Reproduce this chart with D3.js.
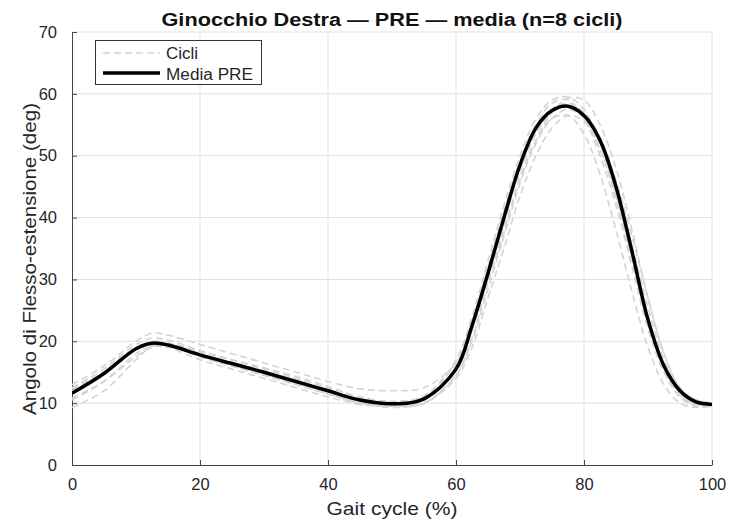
<!DOCTYPE html>
<html>
<head>
<meta charset="utf-8">
<script src="https://cdn.jsdelivr.net/npm/d3@7"></script>
<style>
body{margin:0;background:#fff;}
text{font-family:"Liberation Sans",Arial,sans-serif;}
</style>
</head>
<body>
<svg id="chart" width="731" height="524"></svg>
<script>
const gaitPct = [0,5,10,12.5,15,20,25,30,35,40,45,50,55,60,62.5,65,67.5,70,72.5,75,77.5,80,82.5,85,87.5,90,92.5,95,97.5,100];
const mediaPRE = [11.6,14.8,18.8,19.7,19.4,17.8,16.4,15.0,13.5,12.0,10.5,9.9,10.7,15.5,22.5,31.0,40.0,48.5,54.5,57.3,58.0,56.5,52.5,45.0,34.5,23.5,16.0,12.0,10.2,9.8];
const ciclo1 = [13.0,16,20,21.3,21,19.5,18,16.5,15,13.5,12.3,12,12.5,16.5,22,30,38,46,52.5,57,59.3,59,55,48,38,27,18,12.5,10.5,10.2];
const ciclo2 = [9.3,12,17,19.2,19.5,18,16.3,14.8,13.2,11.5,10,9.3,10,14.5,20.5,29.5,37.5,46.5,52.5,56,56.5,53.5,47,38,28,19,13,10,9.3,9.5];
const ciclo3 = [12.3,15,19,19.8,19.5,17.5,16,14.5,13,11.5,10,9.5,10.5,16,23,32,41,49,55,58.5,59,56,50,42,32,22,15,11,9.8,9.7];
const ciclo4 = [10.5,13.5,18,19.2,19,17,15.5,14,12.5,11,9.8,9.5,10,14,19,27,35,43.5,50,54.5,56.5,55.5,51,43,33,23,15.5,11,9.5,9.5];
const ciclo5 = [11.8,15,19,20,19.8,18.3,17,15.7,14.3,12.7,11,10.2,11,16.5,23,31.5,40,48,54,57.5,58.5,57,53,46,37,27,18,12.5,10.5,10];
const ciclo6 = [12.5,15.5,19.5,20.5,20.2,18.5,17,15.5,14,12.5,11,10.3,11.2,17,24,33,42,50,56,59,59.5,57.5,52,44,34,24,16,11.5,9.8,9.7];
const ciclo7 = [10.8,13.5,17.5,19,19.2,17.5,16,14.5,13,11.5,10,9.5,10,14.5,20,28.5,37,45.5,52,56,57.5,56,52,45,35.5,25.5,17,12,10,9.8];
const ciclo8 = [12.0,14.8,18.6,19.5,19.3,17.5,16,14.6,13.2,11.7,10.2,9.7,10.5,15.5,22,30.5,39,47.5,53.5,57,58,56,51,43.5,33.5,23,15.5,11.3,9.8,9.6];
const cicli = [ciclo1,ciclo2,ciclo3,ciclo4,ciclo5,ciclo6,ciclo7,ciclo8];
const xTicks = [0,20,40,60,80,100];
const yTicks = [0,10,20,30,40,50,60,70];
const titleText = "Ginocchio Destra — PRE — media (n=8 cicli)";
const xLabel = "Gait cycle (%)";
const yLabel = "Angolo di Flesso-estensione (deg)";
const legendLabels = ["Cicli","Media PRE"];

const svg = d3.select("#chart");
const m = {l:72, t:32, r:19, b:59};
const W = 731 - m.l - m.r, H = 524 - m.t - m.b;
const g = svg.append("g").attr("transform",`translate(${m.l},${m.t})`);
const x = d3.scaleLinear().domain([0,100]).range([0,W]);
const y = d3.scaleLinear().domain([0,70]).range([H,0]);

// grid
g.append("g").selectAll("line").data(xTicks.filter(d=>d>0)).join("line")
  .attr("x1",d=>x(d)).attr("x2",d=>x(d)).attr("y1",0).attr("y2",H)
  .attr("stroke","#e1e1e1").attr("stroke-width",1);
g.append("g").selectAll("line").data(yTicks.filter(d=>d>0)).join("line")
  .attr("y1",d=>y(d)).attr("y2",d=>y(d)).attr("x1",0).attr("x2",W)
  .attr("stroke","#e1e1e1").attr("stroke-width",1);

// axes
const xAxis = d3.axisBottom(x).tickValues(xTicks).tickSizeInner(-5).tickSizeOuter(0).tickPadding(13);
const yAxis = d3.axisLeft(y).tickValues(yTicks).tickSizeInner(-5).tickSizeOuter(0).tickPadding(15);
const gx = g.append("g").attr("transform",`translate(0,${H})`).call(xAxis);
const gy = g.append("g").call(yAxis);
[gx,gy].forEach(a=>{
  a.select(".domain").attr("stroke","#444").attr("stroke-width",1);
  a.selectAll(".tick line").attr("stroke","#444");
  a.selectAll(".tick text").attr("fill","#262626").style("font-size","16.5px").style("font-family","'Liberation Sans',Arial,sans-serif");
});

const line = d3.line().x((d,i)=>x(gaitPct[i])).y(d=>y(d)).curve(d3.curveCatmullRom.alpha(0.5));
svg.append("clipPath").attr("id","clip").append("rect").attr("width",W).attr("height",H);
const plot = g.append("g").attr("clip-path","url(#clip)");
plot.selectAll(".ciclo").data(cicli).join("path").attr("class","ciclo")
  .attr("d",line).attr("fill","none").attr("stroke","#d4d4d4").attr("stroke-width",1.6)
  .attr("stroke-dasharray","7,4");
plot.append("path").datum(mediaPRE).attr("d",line).attr("fill","none")
  .attr("stroke","#000").attr("stroke-width",3.5);

// labels
svg.append("text").attr("x",392).attr("y",25.5).attr("text-anchor","middle")
  .attr("textLength",461).attr("lengthAdjust","spacingAndGlyphs")
  .style("font-size","18px").style("font-weight","bold").attr("fill","#111").text(titleText);
svg.append("text").attr("x",392).attr("y",515).attr("text-anchor","middle")
  .attr("textLength",131).attr("lengthAdjust","spacingAndGlyphs")
  .style("font-size","19px").attr("fill","#262626").text(xLabel);
svg.append("text").attr("transform","translate(36,259) rotate(-90)").attr("text-anchor","middle")
  .attr("textLength",312).attr("lengthAdjust","spacingAndGlyphs")
  .style("font-size","19px").attr("fill","#262626").text(yLabel);

// legend
const lg = svg.append("g");
lg.append("rect").attr("x",95.5).attr("y",40.5).attr("width",166).attr("height",44)
  .attr("fill","#fff").attr("stroke","#333").attr("stroke-width",1);
lg.append("line").attr("x1",103).attr("x2",160).attr("y1",53).attr("y2",53)
  .attr("stroke","#d4d4d4").attr("stroke-width",1.6).attr("stroke-dasharray","7,4");
lg.append("line").attr("x1",103).attr("x2",160).attr("y1",73).attr("y2",73)
  .attr("stroke","#000").attr("stroke-width",3.5);
lg.append("text").attr("x",166).attr("y",59).attr("textLength",32).attr("lengthAdjust","spacingAndGlyphs")
  .style("font-size","16px").attr("fill","#262626").text(legendLabels[0]);
lg.append("text").attr("x",166).attr("y",79.5).attr("textLength",87).attr("lengthAdjust","spacingAndGlyphs")
  .style("font-size","16px").attr("fill","#262626").text(legendLabels[1]);
</script>
</body>
</html>
